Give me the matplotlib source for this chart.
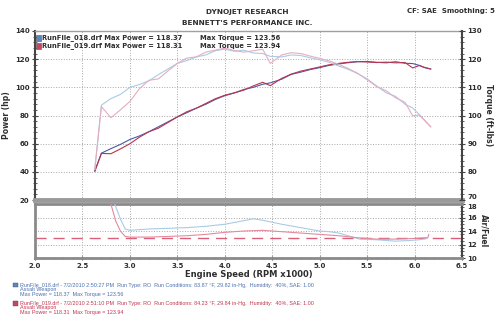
import matplotlib.pyplot as plt
from matplotlib.ticker import MultipleLocator
from matplotlib.transforms import ScaledTranslation

# エンジン回転数 (RPM x1000)
rpm = [2.63, 2.70, 2.80, 2.90, 3.00, 3.10, 3.20, 3.30, 3.40, 3.50,
       3.60, 3.70, 3.80, 3.90, 4.00, 4.10, 4.20, 4.30, 4.40, 4.48,
       4.60, 4.70, 4.80, 4.90, 5.00, 5.10, 5.20, 5.30, 5.40, 5.50,
       5.60, 5.70, 5.80, 5.90, 5.98, 6.05, 6.10, 6.17]

# 馬力 (hp)
power_018 = [40.5, 53.3, 56.5, 59.5, 63.0, 65.5, 68.5, 72.0, 75.5, 79.0,
             82.0, 85.2, 88.0, 91.4, 94.1, 96.0, 98.5, 100.0, 102.2, 103.2,
             105.8, 109.2, 110.8, 112.6, 114.0, 115.6, 116.6, 117.5, 118.2, 118.37,
             117.8, 117.4, 118.2, 117.1, 116.9, 115.6, 114.1, 113.0]
power_019 = [40.5, 53.1, 52.9, 56.3, 60.0, 64.6, 68.5, 71.0, 75.0, 79.0,
             82.7, 85.2, 88.6, 91.9, 94.4, 96.1, 98.0, 101.0, 103.6, 101.2,
             106.4, 109.4, 111.5, 113.0, 114.5, 116.0, 117.0, 117.8, 118.31, 118.0,
             117.6, 117.9, 117.4, 117.6, 113.8, 115.5, 114.3, 113.0]

# トルク (ft-lbs)
torque_018 = [80.9, 103.7, 106.0, 107.5, 110.0, 111.0, 112.3, 114.5, 116.5, 118.5,
              119.5, 120.8, 121.5, 123.0, 123.56, 122.8, 123.2, 122.2, 122.0, 121.0,
              120.8, 121.5, 121.3, 120.5, 119.8, 118.9, 117.6, 116.4, 114.9, 113.0,
              110.5, 108.1, 106.8, 104.0, 102.7, 100.3, 98.6, 96.0]
torque_019 = [80.9, 103.2, 99.2, 102.0, 105.0, 109.5, 112.5, 113.0, 115.8, 118.5,
              120.4, 120.8, 122.5, 123.2, 123.94, 123.1, 122.5, 123.0, 123.5, 118.5,
              121.5, 122.3, 122.0, 121.1, 120.3, 119.4, 118.2, 116.7, 115.0, 112.7,
              110.3, 108.8, 106.3, 104.7, 99.9, 100.2, 98.4, 96.0]

# 空燃比
afr_rpm_018 = [2.80, 2.84, 2.90, 2.95, 3.00, 3.20, 3.40, 3.60, 3.80, 4.00,
               4.15, 4.30, 4.40, 4.50, 4.60, 4.80, 5.00, 5.10, 5.20, 5.30,
               5.42, 5.60, 5.80, 5.95, 6.05, 6.13]
afr_018 = [19.5, 18.0, 15.8, 14.3, 14.1, 14.3, 14.4, 14.5, 14.7, 15.0,
           15.4, 15.8, 15.6, 15.3, 15.0, 14.5, 14.0, 13.9, 13.7, 13.3,
           12.8, 12.7, 12.5, 12.6, 12.7, 12.9]
afr_rpm_019 = [2.74, 2.80, 2.85, 2.90, 2.95, 3.00, 3.20, 3.40, 3.60, 3.80,
               4.00, 4.20, 4.40, 4.60, 4.80, 5.00, 5.20, 5.40, 5.60, 5.80,
               6.00, 6.10, 6.14, 6.15]
afr_019 = [19.5, 18.0, 15.5, 14.0, 13.2, 13.1, 13.1, 13.2, 13.3, 13.5,
           13.8, 14.0, 14.1, 13.9, 13.7, 13.5, 13.3, 13.0, 12.8, 12.8,
           12.9, 13.0, 13.0, 13.5]
afr_target = 13.0

BLUE = "#4a5aa8"
RED = "#b8344f"
BLUE_LIGHT = "#a9cbe6"
RED_LIGHT = "#e6adc0"
TXT = "#2e2e2e"

plt.rcParams["font.family"] = ["DejaVu Sans"]

fig = plt.figure(figsize=(5, 3.28), dpi=100)
fig.patch.set_facecolor("white")

# 上段: パワー / トルク
ax = fig.add_axes([0.07, 0.39, 0.854, 0.5155])
ax_t = ax.twinx()

ax.plot(rpm, power_018, color=BLUE, lw=0.8, zorder=3)
ax.plot(rpm, power_019, color=RED, lw=0.8, zorder=3)
ax_t.plot(rpm, torque_018, color=BLUE_LIGHT, lw=0.8)
ax_t.plot(rpm, torque_019, color=RED_LIGHT, lw=0.8)

ax.set_xlim(2.0, 6.5)
ax.set_ylim(20, 140)
ax_t.set_ylim(70, 130)
ax.set_xticks([2.5, 3.0, 3.5, 4.0, 4.5, 5.0, 5.5, 6.0])
ax.tick_params(axis="x", length=0, labelbottom=False)
ax.yaxis.set_major_locator(MultipleLocator(20))
ax.yaxis.set_minor_locator(MultipleLocator(4))
ax_t.yaxis.set_major_locator(MultipleLocator(10))
ax_t.yaxis.set_minor_locator(MultipleLocator(2))
ax.grid(True, ls=":", lw=0.7, color="#a8a8a8")

for a in (ax, ax_t):
    a.tick_params(axis="y", which="major", direction="inout", length=4,
                  width=0.8, colors="#444", labelsize=5, labelcolor=TXT, pad=2)
    a.tick_params(axis="y", which="minor", direction="inout", length=2.5,
                  width=0.6, colors="#444")
    for lab in a.get_yticklabels():
        lab.set_fontweight("bold")

# 下端の "70" を少し上へずらす
for lab in ax_t.get_yticklabels():
    if lab.get_text() == "70":
        lab.set_transform(lab.get_transform()
                          + ScaledTranslation(0, 2.5 / 72, fig.dpi_scale_trans))

ax.spines["top"].set_color("#a0a0a0")
ax.spines["top"].set_linewidth(1)
ax.spines["bottom"].set_color("#9a9a9a")
ax.spines["bottom"].set_linewidth(3.5)
ax.spines["left"].set_color("#444")
ax.spines["left"].set_linewidth(1.5)
ax.spines["right"].set_visible(False)
for s in ("top", "bottom", "left"):
    ax_t.spines[s].set_visible(False)
ax_t.spines["right"].set_color("#444")
ax_t.spines["right"].set_linewidth(1.5)

ax.set_ylabel("Power (hp)", fontsize=5.5, fontweight="bold", color=TXT, labelpad=3)
ax_t.set_ylabel("Torque (ft-lbs)", fontsize=5.5, fontweight="bold", color=TXT,
                rotation=270, labelpad=8)

# 下段: 空燃比
ax2 = fig.add_axes([0.07, 0.2134, 0.854, 0.1646])
ax2.plot(afr_rpm_018, afr_018, color=BLUE_LIGHT, lw=0.8, zorder=3)
ax2.plot(afr_rpm_019, afr_019, color="#e48a9e", lw=0.8, zorder=3)
ax2.axhline(afr_target, color="#d9607a", lw=1.0, dashes=(8, 5), zorder=2)
ax2.set_xlim(2.0, 6.5)
ax2.set_ylim(10, 18)
ax2.set_xticks([2.0, 2.5, 3.0, 3.5, 4.0, 4.5, 5.0, 5.5, 6.0, 6.5])
ax2.xaxis.set_minor_locator(MultipleLocator(0.1))
ax2.yaxis.set_major_locator(MultipleLocator(2))
ax2.yaxis.set_minor_locator(MultipleLocator(0.5))
ax2.yaxis.tick_right()
ax2.yaxis.set_label_position("right")
ax2.grid(True, ls=":", lw=0.7, color="#a8a8a8")
ax2.tick_params(axis="x", which="major", direction="inout", length=3,
                width=0.8, colors="#444", labelsize=5, labelcolor=TXT, pad=2)
ax2.tick_params(axis="x", which="minor", direction="inout", length=2,
                width=0.6, colors="#444")
ax2.tick_params(axis="y", which="major", direction="inout", length=4,
                width=0.8, colors="#444", labelsize=5, labelcolor=TXT, pad=2)
ax2.tick_params(axis="y", which="minor", direction="inout", length=2.5,
                width=0.6, colors="#444")
for lab in ax2.get_xticklabels() + ax2.get_yticklabels():
    lab.set_fontweight("bold")
# 上端の "18" を少し下へずらす
for lab in ax2.get_yticklabels():
    if lab.get_text() == "18":
        lab.set_transform(lab.get_transform()
                          + ScaledTranslation(0, -2.0 / 72, fig.dpi_scale_trans))
for s in ax2.spines.values():
    s.set_color("#8a8a8a")
    s.set_linewidth(2)
ax2.spines["right"].set_color("#444")
ax2.spines["right"].set_linewidth(1.5)

ax2.set_ylabel("Air/Fuel", fontsize=5.5, fontweight="bold", color=TXT,
               rotation=270, labelpad=8)
ax2.set_xlabel("Engine Speed (RPM x1000)", fontsize=6, fontweight="bold",
               color=TXT, labelpad=1)

# ヘッダー
fig.text(0.494, 0.963, "DYNOJET RESEARCH", ha="center", va="center",
         fontsize=5.3, fontweight="bold", color=TXT)
fig.text(0.494, 0.930, "BENNETT'S PERFORMANCE INC.", ha="center", va="center",
         fontsize=5.3, fontweight="bold", color=TXT)
fig.text(0.99, 0.965, "CF: SAE  Smoothing: 5", ha="right", va="center",
         fontsize=5, fontweight="bold", color=TXT)

# 凡例
legend_rows = [
    ("RunFile_018.drf", max(power_018), max(torque_018), "#5b86c4"),
    ("RunFile_019.drf", max(power_019), max(torque_019), "#c8455e"),
]
for i, (name, mp, mt, col) in enumerate(legend_rows):
    y = 0.885 - i * 0.025
    fig.patches.append(plt.Rectangle((0.071, y - 0.009), 0.011, 0.018,
                                     transform=fig.transFigure, facecolor=col,
                                     edgecolor="#555", lw=0.4, figure=fig))
    fig.text(0.085, y, f"{name} Max Power = {mp:.2f}", va="center",
             fontsize=4.9, fontweight="bold", color=TXT)
    fig.text(0.40, y, f"Max Torque = {mt:.2f}", va="center",
             fontsize=4.9, fontweight="bold", color=TXT)

# フッター
footer = [
    ("RunFile_018.drf - 7/2/2010 2:50:27 PM  Run Type: RO  Run Conditions: "
     "83.87 °F, 29.82 in-Hg,  Humidity:  40%, SAE: 1.00",
     max(power_018), max(torque_018), "#4a6fb0", "#5b86c4"),
    ("RunFile_019.drf - 7/2/2010 2:51:10 PM  Run Type: RO  Run Conditions: "
     "84.23 °F, 29.84 in-Hg,  Humidity:  40%, SAE: 1.00",
     max(power_019), max(torque_019), "#c0354f", "#c8455e"),
]
for i, (line1, mp, mt, tcol, icol) in enumerate(footer):
    y0 = 1 - (285 + i * 18.3) / 328
    fig.patches.append(plt.Rectangle((0.026, y0 - 0.007), 0.009, 0.014,
                                     transform=fig.transFigure, facecolor=icol,
                                     edgecolor="#555", lw=0.3, figure=fig))
    fig.text(0.04, y0, line1, va="center", fontsize=3.9, color=tcol,
             family="Liberation Sans")
    fig.text(0.04, y0 - 4.6 / 328, "Assalt Weapon", va="center", fontsize=3.9,
             color=tcol, family="Liberation Sans")
    fig.text(0.04, y0 - 9.2 / 328, f"Max Power = {mp:.2f}  Max Torque = {mt:.2f}",
             va="center", fontsize=3.9, color=tcol, family="Liberation Sans")

fig.savefig("out.png", dpi=100)
